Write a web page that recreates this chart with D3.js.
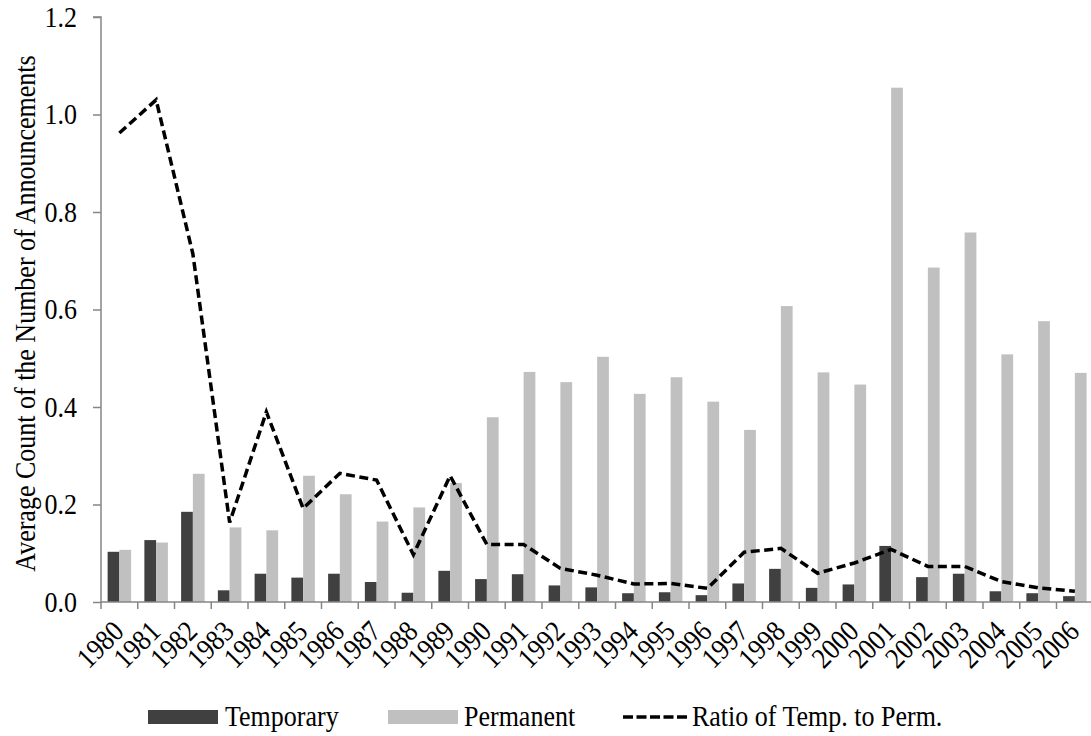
<!DOCTYPE html>
<html>
<head>
<meta charset="utf-8">
<script src="https://d3js.org/d3.v7.min.js"></script>
<style>
  html, body { margin: 0; padding: 0; background: #ffffff; }
  svg { display: block; }
  text { font-family: "Liberation Serif", "Times New Roman", serif; fill: #000; }
</style>
</head>
<body>
<svg id="chart" width="1091" height="736"></svg>
<script>
const years = ["1980","1981","1982","1983","1984","1985","1986","1987","1988","1989","1990","1991","1992","1993","1994","1995","1996","1997","1998","1999","2000","2001","2002","2003","2004","2005","2006"];
const temporary = [0.103,0.127,0.185,0.024,0.058,0.050,0.058,0.041,0.019,0.064,0.047,0.057,0.034,0.030,0.018,0.020,0.014,0.038,0.068,0.029,0.036,0.115,0.051,0.058,0.022,0.018,0.012];
const permanent = [0.107,0.122,0.263,0.153,0.147,0.259,0.221,0.165,0.194,0.244,0.379,0.472,0.451,0.503,0.427,0.461,0.411,0.353,0.607,0.471,0.446,1.055,0.686,0.758,0.508,0.576,0.470];
const ratio = [0.962,1.030,0.714,0.163,0.390,0.192,0.264,0.250,0.097,0.259,0.118,0.118,0.069,0.055,0.037,0.038,0.028,0.102,0.110,0.059,0.080,0.108,0.073,0.073,0.042,0.029,0.022];
const yTicks = [0, 0.2, 0.4, 0.6, 0.8, 1.0, 1.2];
const seriesNames = ["Temporary", "Permanent"];
const lineName = "Ratio of Temp. to Perm.";
const yTitle = "Average Count of the Number of Announcements";

(function () {
const svg = d3.select("#chart");
const mLeft = 101, mTop = 17, mBottom = 602, step = 36.75;
const mRight = mLeft + step * years.length;
const axisColor = "#868686";
const fontSize = 26;
const tall = 1.12; // glyphs in the reference are a little taller than wide

const x0 = d3.scaleBand().domain(years).range([mLeft, mRight]).paddingInner(0.36).paddingOuter(0.18);
const x1 = d3.scaleBand().domain(seriesNames).range([0, x0.bandwidth()]);
const y = d3.scaleLinear().domain([0, 1.2]).range([mBottom, mTop]);
const color = d3.scaleOrdinal().domain(seriesNames).range(["#404040", "#c0c0c0"]);

const rows = years.map((yr, i) => ({ year: yr, Temporary: temporary[i], Permanent: permanent[i], ratio: ratio[i] }));

// bars
const groups = svg.append("g").selectAll("g").data(rows).join("g")
  .attr("transform", d => `translate(${x0(d.year)},0)`);
groups.selectAll("rect").data(d => seriesNames.map(k => ({ key: k, value: d[k] }))).join("rect")
  .attr("x", d => x1(d.key))
  .attr("width", x1.bandwidth())
  .attr("y", d => y(d.value))
  .attr("height", d => y(0) - y(d.value))
  .attr("fill", d => color(d.key));

// y axis
const yAxis = d3.axisLeft(y).tickValues(yTicks).tickFormat(d3.format(".1f")).tickSize(8).tickPadding(16);
const gy = svg.append("g").attr("transform", `translate(${mLeft},0)`).call(yAxis);
gy.select(".domain").attr("stroke", axisColor).attr("stroke-width", 1.5).attr("d", `M-8,${mTop}H0V${mBottom}`);
gy.selectAll(".tick line").attr("stroke", axisColor).attr("stroke-width", 1.5);
gy.selectAll(".tick text")
  .style("font-family", "Liberation Serif").style("font-size", fontSize + "px").attr("fill", "#000")
  .attr("dy", null).attr("y", 9 / tall)
  .attr("transform", `scale(1,${tall})`);

// x axis
const xBoundary = d3.scaleLinear().domain([0, years.length]).range([mLeft, mRight]);
const gx = svg.append("g");
gx.append("line").attr("x1", mLeft).attr("x2", 1091).attr("y1", mBottom).attr("y2", mBottom)
  .attr("stroke", axisColor).attr("stroke-width", 1.5);
gx.selectAll("line.tk").data(d3.range(years.length + 1)).join("line").attr("class", "tk")
  .attr("x1", d => xBoundary(d)).attr("x2", d => xBoundary(d))
  .attr("y1", mBottom).attr("y2", mBottom + 7)
  .attr("stroke", axisColor).attr("stroke-width", 1.5);
gx.selectAll("text").data(years).join("text")
  .attr("transform", d => `translate(${x0(d) + x0.bandwidth() / 2 + 6},${mBottom + 31}) rotate(-45) scale(1,${tall})`)
  .attr("text-anchor", "end")
  .style("font-size", fontSize + "px")
  .text(d => d);

// ratio line
const line = d3.line()
  .x(d => x0(d.year) + x0.bandwidth() / 2)
  .y(d => y(d.ratio));
svg.append("path").datum(rows)
  .attr("d", line)
  .attr("fill", "none")
  .attr("stroke", "#000")
  .attr("stroke-width", 3.5)
  .attr("stroke-dasharray", "9,4.5");

// y title
svg.append("text")
  .attr("transform", `translate(35,${(mTop + mBottom) / 2 + 4}) rotate(-90) scale(1,${tall})`)
  .attr("text-anchor", "middle")
  .style("font-size", fontSize + "px")
  .text(yTitle);

// legend
const lg = svg.append("g");
const legendY = 717;
const legText = (x, t) => lg.append("text")
  .attr("transform", `translate(${x},${legendY + 9}) scale(1,${tall})`)
  .style("font-size", fontSize + "px").text(t);
lg.append("rect").attr("x", 148).attr("y", legendY - 7).attr("width", 70).attr("height", 14).attr("fill", color("Temporary"));
legText(225, seriesNames[0]);
lg.append("rect").attr("x", 388).attr("y", legendY - 7).attr("width", 70).attr("height", 14).attr("fill", color("Permanent"));
legText(464, seriesNames[1]);
lg.append("line").attr("x1", 623).attr("x2", 689).attr("y1", legendY).attr("y2", legendY)
  .attr("stroke", "#000").attr("stroke-width", 3.5).attr("stroke-dasharray", "10,3.5");
legText(692, lineName);
})();
</script>
</body>
</html>
